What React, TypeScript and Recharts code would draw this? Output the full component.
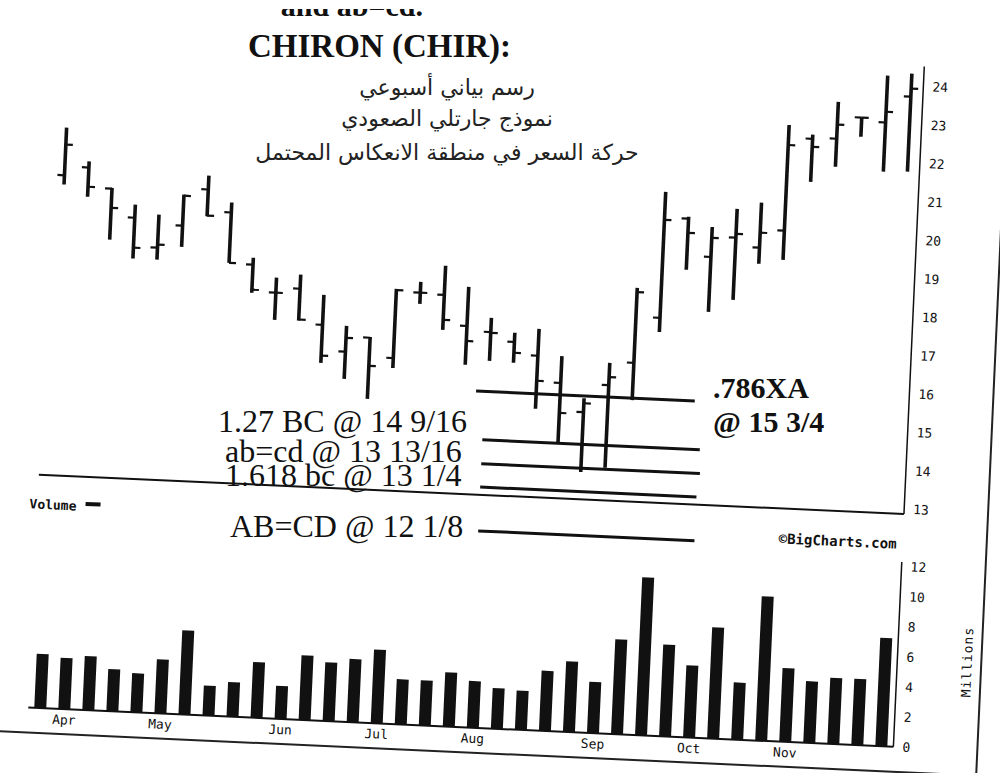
import React from 'react';
import { ComposedChart, BarChart, Bar, XAxis, YAxis, ReferenceLine } from 'recharts';

// weekly bars, one per week
const weeks = [
  'Mar 29', 'Apr 5', 'Apr 12', 'Apr 19', 'Apr 26', 'May 3', 'May 10', 'May 17', 'May 24',
  'May 31', 'Jun 7', 'Jun 14', 'Jun 21', 'Jun 28', 'Jul 5', 'Jul 12', 'Jul 19', 'Jul 26',
  'Aug 2', 'Aug 9', 'Aug 16', 'Aug 23', 'Aug 30', 'Sep 6', 'Sep 13', 'Sep 20', 'Sep 27',
  'Oct 4', 'Oct 11', 'Oct 18', 'Oct 25', 'Nov 1', 'Nov 8', 'Nov 15', 'Nov 22', 'Nov 29',
];
const monthStarts = ['Apr 5', 'May 3', 'Jun 7', 'Jul 5', 'Aug 2', 'Sep 6', 'Oct 4', 'Nov 1'];

const openPrice = [
  20.68, 20.91, 20.39, 19.66, 18.91, 19.51, 20.48, 19.91, 18.58, 17.88, 18.01, 17.10,
  16.43, 16.82, 16.32, 18.05, 18.02, 17.24, 17.11, 16.88, 16.55, 15.87, 15.14, 15.87,
  16.48, 17.68, 20.29, 19.32, 19.85, 19.62, 20.09, 22.51, 22.54, 23.12, 23.02, 23.72,
];
const highPrice = [
  21.92, 21.07, 20.41, 20.00, 19.77, 20.32, 20.84, 20.17, 18.76, 18.27, 18.38, 17.88,
  17.10, 16.84, 18.12, 18.33, 18.78, 18.26, 17.48, 17.12, 17.25, 16.57, 15.50, 16.45,
  18.43, 20.96, 20.34, 20.10, 20.60, 20.79, 22.84, 22.62, 23.50, 23.12, 24.24, 24.32,
];
const lowPrice = [
  20.44, 20.15, 19.06, 18.60, 18.60, 18.96, 19.78, 18.60, 17.85, 17.17, 17.18, 16.11,
  15.72, 15.23, 16.06, 17.76, 17.11, 16.23, 16.36, 16.34, 15.17, 14.31, 13.58, 13.72,
  15.51, 17.31, 18.96, 17.89, 18.23, 19.20, 19.33, 21.39, 21.81, 22.62, 21.74, 21.77,
];
const closePrice = [
  21.48, 20.41, 19.89, 18.88, 18.99, 20.29, 19.80, 18.60, 17.93, 17.88, 17.21, 16.30,
  16.79, 16.09, 18.09, 18.05, 17.37, 16.85, 17.09, 16.60, 15.90, 15.09, 15.37, 16.08,
  18.32, 20.23, 19.92, 19.82, 19.95, 20.01, 22.32, 22.30, 22.91, 23.12, 23.30, 23.93,
];
// millions of shares
const volume = [
  3.6, 3.4, 3.6, 2.8, 2.6, 3.6, 5.6, 2.0, 2.3, 3.7, 2.2, 4.3, 3.9, 4.2, 4.9, 3.0, 3.0, 3.6,
  3.1, 2.7, 2.6, 4.0, 4.7, 3.4, 6.3, 10.5, 6.1, 4.8, 7.4, 3.8, 9.6, 4.9, 4.1, 4.4, 4.4, 7.2,
];

const priceTicks = [13, 14, 15, 16, 17, 18, 19, 20, 21, 22, 23, 24];
const volumeTicks = [0, 2, 4, 6, 8, 10, 12];

// hand drawn target lines (price level, from week index, to week index)
const fibLevels = [15.56, 14.3, 13.68, 13.07, 11.93];
const fibFrom = [17.5, 17.85, 17.85, 17.85, 17.85];
const fibTo = [26.6, 26.9, 26.95, 26.85, 26.85];

const titleText = 'CHIRON (CHIR):';
const cutText = 'and ab=cd.';
const arabicLines = [
  'رسم بياني أسبوعي',
  'نموذج جارتلي الصعودي',
  'حركة السعر في منطقة الانعكاس المحتمل',
];
const leftNotes = ['1.27 BC @ 14 9/16', 'ab=cd @ 13 13/16', '1.618 bc @ 13 1/4', 'AB=CD @ 12 1/8'];
const rightNotes = ['.786XA', '@ 15 3/4'];

const priceData = weeks.map((week, i) => ({
  week,
  idx: i,
  range: [lowPrice[i], highPrice[i]],
  open: openPrice[i],
  close: closePrice[i],
}));
const volumeData = weeks.map((week, i) => ({ week, volume: volume[i] }));

const INK = '#111';
const MONO = '"DejaVu Sans Mono", monospace';
const SERIF = '"Liberation Serif", "Times New Roman", serif';
const axisTick = { fill: INK, fontSize: 13, fontFamily: MONO };

const OhlcBar = (props: any) => {
  const { x, y, width, height, payload } = props;
  const [low, high] = payload.range;
  const top = Math.min(y, y + height);
  const span = Math.abs(height);
  const toY = (v: number) => top + ((high - v) / (high - low || 1)) * span;
  const cx = x + width / 2;
  return (
    <g>
      <line x1={cx} x2={cx} y1={top} y2={top + span} stroke={INK} strokeWidth={3.6} />
      <line x1={cx - 7} x2={cx} y1={toY(payload.open)} y2={toY(payload.open)} stroke={INK} strokeWidth={2.2} />
      <line x1={cx} x2={cx + 7} y1={toY(payload.close)} y2={toY(payload.close)} stroke={INK} strokeWidth={2.2} />
    </g>
  );
};

export default function App() {
  return (
    <div style={{ position: 'fixed', left: 0, top: 0, width: 1000, height: 773, overflow: 'hidden', background: '#fff' }}>
      {/* the scanned chart sits slightly tilted on the page */}
      <div
        style={{
          position: 'absolute', left: 0, top: 0, width: 1000, height: 773,
          transform: 'rotate(2.6deg)', transformOrigin: '903px 513px',
        }}
      >
        <div style={{ position: 'absolute', left: 0, top: 0 }}>
          <ComposedChart width={1000} height={560} data={priceData} margin={{ top: 66, right: 36, bottom: 44, left: 38 }}>
            <XAxis dataKey="week" height={2} tick={false} tickLine={false} axisLine={{ stroke: INK, strokeWidth: 2 }} />
            <XAxis xAxisId="idx" type="number" dataKey="idx" domain={[-0.5, 35.5]} hide />
            <YAxis
              orientation="right" width={60} type="number" domain={[12.87, 24.52]} allowDataOverflow
              ticks={priceTicks} tickLine={false} tickMargin={3} tick={axisTick}
              axisLine={{ stroke: INK, strokeWidth: 1.5 }}
            />
            <Bar dataKey="range" barSize={8} shape={OhlcBar} isAnimationActive={false} />
            {fibLevels.map((lvl, i) => (
              <ReferenceLine
                key={i} xAxisId="idx" ifOverflow="visible"
                segment={[{ x: fibFrom[i], y: lvl }, { x: fibTo[i], y: lvl }]}
                stroke={INK} strokeWidth={3}
              />
            ))}
          </ComposedChart>
        </div>

        <div style={{ position: 'absolute', left: 0, top: 540 }}>
          <BarChart width={1000} height={232} data={volumeData} margin={{ top: 22, right: 36, bottom: 0, left: 38 }}>
            <XAxis
              dataKey="week" height={25} interval={0} tickLine={false} tickSize={4} tickMargin={2}
              tick={axisTick} tickFormatter={(w: string) => (monthStarts.includes(w) ? w.slice(0, 3) : '')}
              axisLine={{ stroke: INK, strokeWidth: 2 }}
            />
            <YAxis
              orientation="right" width={60} domain={[0, 12.3]} allowDataOverflow ticks={volumeTicks}
              tickLine={false} tickMargin={3} tick={axisTick} axisLine={{ stroke: INK, strokeWidth: 1.5 }}
            />
            <Bar dataKey="volume" fill={INK} barSize={12} isAnimationActive={false} />
          </BarChart>
        </div>

        <svg width={1000} height={773} style={{ position: 'absolute', left: 0, top: 0, overflow: 'visible' }}>
          <line x1={-60} x2={988} y1={772} y2={772} stroke="#222" strokeWidth={2} />
          <line x1={988} x2={988} y1={-60} y2={772} stroke="#222" strokeWidth={2} />
          <text x={30} y={548} fontFamily={MONO} fontSize={13} fontWeight="bold" fill={INK}>Volume</text>
          <rect x={86} y={539} width={15} height={4} fill={INK} />
          <text x={780} y={549} fontFamily={MONO} fontSize={14} fontWeight="bold" fill={INK}>©BigCharts.com</text>
          <text
            x={974} y={659} transform="rotate(-90 974 659)" textAnchor="middle" dominantBaseline="central"
            fontFamily={MONO} fontSize={13} letterSpacing={1} fill={INK}
          >
            Millions
          </text>
        </svg>
      </div>

      {/* notes written over the chart */}
      <svg width={1000} height={773} style={{ position: 'absolute', left: 0, top: 0 }}>
        <text x={423} y={16} textAnchor="end" fontFamily={SERIF} fontWeight="bold" fontSize={30} fill={INK}>
          {cutText}
        </text>
        {/* the scan cuts off the line above the title */}
        <rect x={0} y={0} width={1000} height={9} fill="#fff" />
        <text x={248} y={57} fontFamily={SERIF} fontWeight="bold" fontSize={33} fill={INK}>{titleText}</text>
        {arabicLines.map((line, i) => (
          <text key={i} x={447} y={[95, 126, 160][i]} textAnchor="middle" fontFamily='"DejaVu Sans", sans-serif' fontSize={22} fill="#222">
            {line}
          </text>
        ))}
        {leftNotes.map((note, i) => (
          <text key={i} x={[218, 225, 225, 230][i]} y={[432, 462, 486, 537][i]} fontFamily={SERIF} fontSize={32} fill={INK}>
            {note}
          </text>
        ))}
        {rightNotes.map((note, i) => (
          <text key={i} x={713} y={[398, 432][i]} fontFamily={SERIF} fontWeight="bold" fontSize={30} fill={INK}>
            {note}
          </text>
        ))}
      </svg>
    </div>
  );
}
